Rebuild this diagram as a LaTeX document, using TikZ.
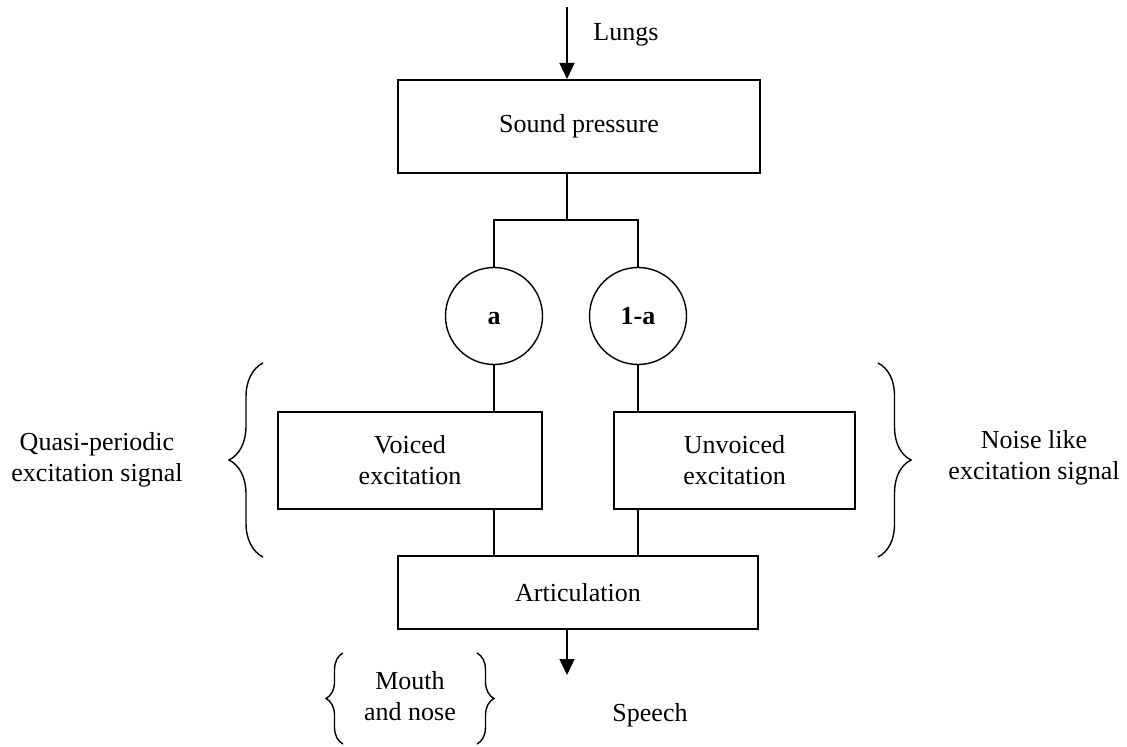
\documentclass[tikz,border=0pt]{standalone}
\usepackage{fontspec}
\setmainfont{Liberation Serif}
\usetikzlibrary{arrows.meta,decorations.pathreplacing}
\begin{document}
\begin{tikzpicture}[x=0.5pt,y=-0.5pt,
  txt/.style={align=center, inner sep=0pt, font=\fontsize{13}{15.5}\selectfont},
  blk/.style={txt, draw, line width=1pt},
  circ/.style={txt, draw, circle, line width=0.7pt, minimum size=48.5pt, text height=9pt, text depth=0pt, font=\fontsize{13}{15.5}\selectfont\bfseries},
  ln/.style={line width=0.7pt},
  arr/.style={line width=0.7pt, -{Triangle[length=8pt,width=7.5pt]}},
  brc/.style={line width=0.7pt, decorate, decoration={brace, amplitude=#1}}]
\useasboundingbox (0,0) rectangle (1127,747);

\node[blk, minimum width=181pt, minimum height=46.5pt] (sp) at (579,126.5) {Sound pressure};
\node[circ] (ca) at (494,316) {a};
\node[circ] (cb) at (638,316) {1-a};
\node[blk, minimum width=132pt, minimum height=48pt] (vo) at (410,460.5) {Voiced\\excitation};
\node[blk, minimum width=120.5pt, minimum height=48pt] (uv) at (734.5,460.5) {Unvoiced\\excitation};
\node[blk, minimum width=180pt, minimum height=36.5pt] (ar) at (578,592.5) {Articulation};

\node[txt, anchor=west] (lungs) at (593,35) {Lungs};
\node[txt] (quasi) at (97,460) {Quasi-periodic\\excitation signal};
\node[txt] (noise) at (1034,458) {Noise like\\excitation signal};
\node[txt] (mouth) at (410,696) {Mouth\\and nose};
\node[txt] (speech) at (650,715) {Speech};

\coordinate (lin) at (567,7);
\coordinate (br) at (567,220);
\coordinate (spk) at (567,675);

\draw[arr] (lin) -- (lin |- sp.north);
\draw[ln] (br |- sp.south) -- (br);
\draw[ln] (ca.north) -- (ca.north |- br) -- (cb.north |- br) -- (cb.north);
\draw[ln] (ca.south) -- (ca.south |- vo.north);
\draw[ln] (cb.south) -- (cb.south |- uv.north);
\draw[ln] (ca |- vo.south) -- (ca |- ar.north);
\draw[ln] (cb |- uv.south) -- (cb |- ar.north);
\draw[arr] (spk |- ar.south) -- (spk);

\coordinate (lb1) at (263,557);
\coordinate (lb2) at (263,363);
\coordinate (rb1) at (878,363);
\coordinate (rb2) at (878,557);
\coordinate (mb1) at (343,744);
\coordinate (mb2) at (343,653);
\coordinate (nb1) at (477,653);
\coordinate (nb2) at (477,744);
\draw[brc=17pt] (lb1) -- (lb2);
\draw[brc=16.5pt] (rb1) -- (rb2);
\draw[brc=8.5pt] (mb1) -- (mb2);
\draw[brc=8.5pt] (nb1) -- (nb2);
\end{tikzpicture}
\end{document}
